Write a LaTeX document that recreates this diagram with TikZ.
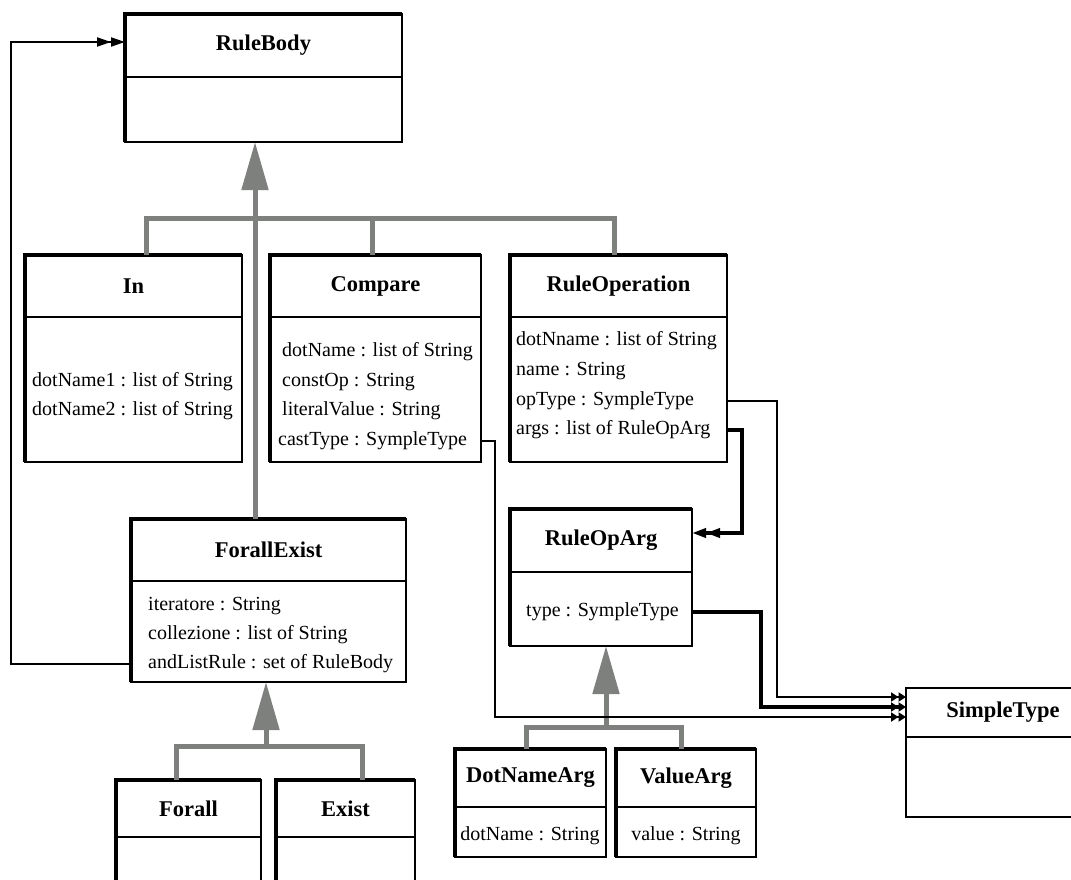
\documentclass[tikz,border=0pt]{standalone}
\usepackage{fontspec}
\setmainfont{Liberation Serif}
\usetikzlibrary{arrows.meta,calc}
\definecolor{gencol}{RGB}{125,128,125}
\tikzset{
 classbox/.style={draw, line width=2pt, inner sep=0pt, outer sep=0pt, fill=white},
 thickedge/.style={line width=3.5pt},
 thinedge/.style={line width=2pt},
 divline/.style={line width=2.5pt},
 classname/.style={font=\fontsize{22.5}{26}\selectfont\bfseries, inner sep=0pt},
 attr/.style={font=\fontsize{20}{24}\selectfont, inner sep=0pt, anchor=west},
 gen/.style={draw=gencol, line width=5pt},
 gentip/.style={-{Triangle[length=48pt,width=26pt]}},
 assoc/.style={draw=black, line width=2pt, -{Triangle[length=14pt,width=9pt]Triangle[length=14pt,width=9pt]}},
 shorttip/.style={-{Triangle[length=7.5pt,width=9pt]Triangle[length=7.5pt,width=9pt]}},
 assocthick/.style={assoc, line width=4pt},
}
\newcommand\umlclass[8][thickedge]{%
 \pgfmathsetmacro\clsW{#5-#3}%
 \pgfmathsetmacro\clsH{#6-#4}%
 \node[classbox, minimum width=\clsW pt, minimum height=\clsH pt, anchor=north west] (#2) at (#3,#4) {};
 \draw[#1] (#2.south west) -- (#2.north west) -- (#2.north east);
 \draw[divline] (#2.west |- 0,#7) -- (#2.east |- 0,#7);
 \node[classname] (#2-t) at ($(#2.north)!0.5!(#2.north |- 0,#7)$) {#8};
}
\begin{document}
\begin{tikzpicture}[x=1pt,y=-1pt]
\useasboundingbox (0,0) rectangle (1071,880);
\clip (0,0) rectangle (1071,880);
\fill[white] (0,0) rectangle (1071,880);

% classes
\umlclass{rb}{125}{14}{402}{142}{77}{RuleBody}
\umlclass{in}{25}{255}{242}{462}{317}{In}
\umlclass{cmp}{270}{255}{481}{462}{317}{Compare}
\umlclass{ro}{510}{255}{727}{462}{317}{RuleOperation}
\umlclass{fe}{131}{519}{406}{682}{581}{ForallExist}
\umlclass{roa}{510}{509}{692}{646}{572}{RuleOpArg}
\umlclass{fa}{116}{780}{261}{900}{837}{Forall}
\umlclass{ex}{276}{780}{415}{900}{837}{Exist}
\umlclass{dn}{455}{749}{606}{857}{807}{DotNameArg}
\umlclass{va}{616}{749}{756}{857}{807}{ValueArg}
\umlclass[thinedge]{st}{906}{688}{1100}{817}{737}{SimpleType}

% attributes
\node[attr] (in-a1) at (32,382) {dotName1 : list of String};
\node[attr] (in-a2) at (32,411) {dotName2 : list of String};
\node[attr] (cmp-a1) at (282,352) {dotName : list of String};
\node[attr] (cmp-a2) at (282,382) {constOp : String};
\node[attr] (cmp-a3) at (282,411) {literalValue : String};
\node[attr] (cmp-a4) at (278,441) {castType : SympleType};
\node[attr] (ro-a1) at (516,341) {dotNname : list of String};
\node[attr] (ro-a2) at (516,371) {name : String};
\node[attr] (ro-a3) at (516,401) {opType : SympleType};
\node[attr] (ro-a4) at (516,430) {args : list of RuleOpArg};
\node[attr] (fe-a1) at (148,606) {iteratore : String};
\node[attr] (fe-a2) at (148,635) {collezione : list of String};
\node[attr] (fe-a3) at (148,664) {andListRule : set of RuleBody};
\node[attr] (roa-a1) at (526,612) {type : SympleType};
\node[attr, anchor=center] (dn-a1) at (530,836) {dotName : String};
\node[attr, anchor=center] (va-a1) at (686,836) {value : String};

% generalizations
\coordinate (g1) at (255,218);
\coordinate (bIn) at (146,218);
\coordinate (bCmp) at (372,218);
\coordinate (bRo) at (614,218);
\draw[gen] (in.north -| bIn) -- (bIn) -- (bRo) -- (ro.north -| bRo);
\draw[gen] (bCmp) -- (cmp.north -| bCmp);
\draw[gen, gentip] (fe.north -| g1) -- (rb.south -| g1);

\coordinate (g2) at (266,746);
\coordinate (bFa) at (176,746);
\coordinate (bEx) at (362,746);
\draw[gen] (fa.north -| bFa) -- (bFa) -- (bEx) -- (ex.north -| bEx);
\draw[gen, gentip] (g2) -- (fe.south -| g2);

\coordinate (g3) at (606,727);
\coordinate (bDn) at (526,727);
\coordinate (bVa) at (681,727);
\draw[gen] (dn.north -| bDn) -- (bDn) -- (bVa) -- (va.north -| bVa);
\draw[gen, gentip] (g3) -- (roa.south -| g3);

% associations
\coordinate (c1) at (11,42);
\draw[assoc] (fe.west |- fe-a3) -| (c1) -- (rb.west |- c1);
\coordinate (k2) at (495,717);
\draw[assoc, shorttip] (cmp.east |- cmp-a4) -| (k2) -- (st.west |- k2);
\coordinate (k3) at (777,697);
\draw[assoc, shorttip] (ro.east |- ro-a3) -| (k3) -- (st.west |- k3);
\coordinate (k4) at (742,533);
\draw[assocthick] (ro.east |- ro-a4) -| (k4) -- (roa.east |- k4);
\coordinate (k5) at (761,707);
\draw[assocthick, shorttip] (roa.east |- roa-a1) -| (k5) -- (st.west |- k5);
\end{tikzpicture}
\end{document}
